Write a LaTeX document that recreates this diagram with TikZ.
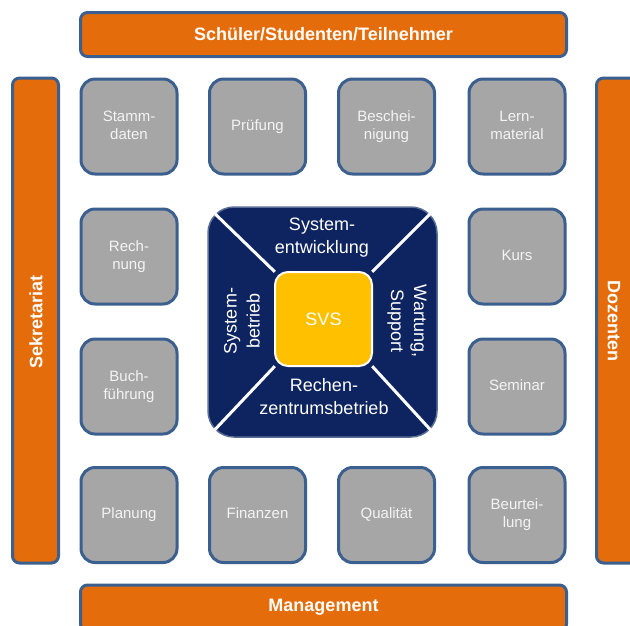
\documentclass[tikz,border=0pt]{standalone}
\usepackage{fontspec}
\setmainfont{Liberation Sans}
\definecolor{orng}{HTML}{E46C0A}
\definecolor{bordr}{HTML}{3B5F8F}
\definecolor{gry}{HTML}{A6A6A6}
\definecolor{navy}{HTML}{0D2461}
\definecolor{navyb}{HTML}{5A6E96}
\definecolor{yel}{HTML}{FFC000}
\definecolor{txtw}{HTML}{F4F4F4}
\newcommand\myline[1]{\strut#1}
\begin{document}
\begin{tikzpicture}[x=1pt,y=-1pt,
  bar/.style={draw=bordr,line width=3pt,fill=orng,rounded corners=7pt,inner sep=0pt},
  bartext/.style={text=white,font=\fontsize{18}{20}\selectfont\bfseries,inner sep=0pt},
  gbox/.style={draw=bordr,line width=3pt,fill=gry,rounded corners=14pt,minimum width=96pt,minimum height=95pt,inner sep=0pt,text=txtw,align=center,font=\fontsize{15}{18}\selectfont},
  ctext/.style={text=white,align=center,inner sep=0pt,font=\fontsize{18}{23}\selectfont},
  diag/.style={draw=white,line width=3pt}]
\useasboundingbox (0,0) rectangle (630,625);
% outer bars
\node[bar,minimum width=486pt,minimum height=44pt] (top) at (323.5,34.5) {};
\node[bartext] (toptext) at (top.center) {Schüler/Studenten/Teilnehmer};
\node[bar,minimum width=486pt,minimum height=46pt] (bot) at (323.5,608) {};
\node[bartext] (bottext) at (323.5,607) {Management};
\node[bar,minimum width=46pt,minimum height=485pt] (left) at (35.5,320.5) {};
\node[bartext,rotate=90] (lefttext) at (36,322) {Sekretariat};
\node[bar,minimum width=47pt,minimum height=485pt] (right) at (620,320.5) {};
\node[bartext,rotate=-90] (righttext) at (614,320.5) {Dozenten};
% gray boxes
\node[gbox] (b11) at (129,126.5) {\myline{Stamm-}\\\myline{daten}};
\node[gbox] (b12) at (257.5,126.5) {\myline{Prüfung}};
\node[gbox] (b13) at (386.5,126.5) {\myline{Beschei-}\\\myline{nigung}};
\node[gbox] (b14) at (517,126.5) {\myline{Lern-}\\\myline{material}};
\node[gbox] (b21) at (129,256.5) {\myline{Rech-}\\\myline{nung}};
\node[gbox] (b24) at (517,256.5) {\myline{Kurs}};
\node[gbox] (b31) at (129,386.5) {\myline{Buch-}\\\myline{führung}};
\node[gbox] (b34) at (517,386.5) {\myline{Seminar}};
\node[gbox] (b41) at (129,515) {\myline{Planung}};
\node[gbox] (b42) at (257.5,515) {\myline{Finanzen}};
\node[gbox] (b43) at (386.5,515) {\myline{Qualität}};
\node[gbox] (b44) at (517,515) {\myline{Beurtei-}\\\myline{lung}};
% center
\node[draw=navyb,line width=1.5pt,fill=navy,rounded corners=26pt,minimum width=229pt,minimum height=230pt,inner sep=0pt] (core) at (322.5,322) {};
\node[minimum width=97pt,minimum height=94pt,inner sep=0pt] (svsarea) at (323.5,319) {};
\begin{scope}
\clip[rounded corners=26pt] (core.north west) rectangle (core.south east);
\draw[diag] (core.north west) -- (svsarea.north west);
\draw[diag] (core.north east) -- (svsarea.north east);
\draw[diag] (core.south west) -- (svsarea.south west);
\draw[diag] (core.south east) -- (svsarea.south east);
\end{scope}
\node[draw=white,line width=2pt,fill=yel,rounded corners=13pt,minimum width=97pt,minimum height=94pt,inner sep=0pt,text=white,font=\fontsize{18}{20}\selectfont] (svs) at (323.5,319) {SVS};
\node[ctext] (t1) at (322,238) {System-\\entwicklung};
\node[ctext] (t2) at (324,397) {Rechen-\\zentrumsbetrieb};
\node[ctext,rotate=90] (t3) at (242,321) {System-\\betrieb};
\node[ctext,rotate=-90] (t4) at (407,321) {Wartung,\\Support};
\end{tikzpicture}
\end{document}
